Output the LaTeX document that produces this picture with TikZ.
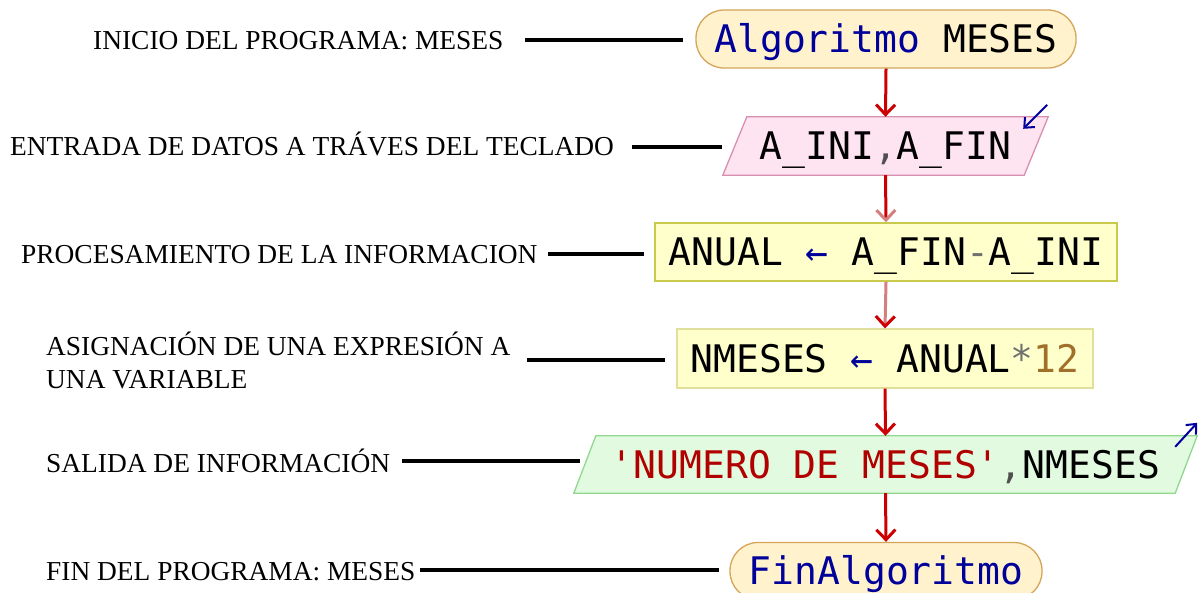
\documentclass[tikz,border=0pt]{standalone}
\usepackage{fontspec}
\setmainfont{Liberation Serif}
\newfontfamily\mono{DejaVu Sans Mono}
\usetikzlibrary{arrows.meta,calc,backgrounds}
\definecolor{termfill}{HTML}{FFF2CC}
\definecolor{termline}{HTML}{D4A55A}
\definecolor{pinkfill}{HTML}{FDE4F0}
\definecolor{pinkline}{HTML}{D88FB0}
\definecolor{procfill}{HTML}{FFFFCC}
\definecolor{procline}{HTML}{C9C94C}
\definecolor{assignline}{HTML}{E0E09C}
\definecolor{greenfill}{HTML}{E2FAE0}
\definecolor{greenline}{HTML}{90D890}
\definecolor{kw}{HTML}{00009A}
\definecolor{strc}{HTML}{B00000}
\definecolor{numc}{HTML}{A0702A}
\definecolor{opc}{HTML}{707070}
\definecolor{punctc}{HTML}{505050}
\definecolor{flowred}{HTML}{CC0000}
\definecolor{flowpink}{HTML}{D48080}
\definecolor{markblue}{HTML}{0000A0}
\begin{document}
\begin{tikzpicture}[x=1pt,y=-1pt,
  code/.style={font=\mono\fontsize{38}{40}\selectfont, text height=27.7pt, text depth=0pt, inner sep=0pt, align=center},
  termbox/.style={code, draw=termline, fill=termfill, line width=1.3pt, rounded corners=28pt, minimum height=58pt},
  procbox/.style={code, draw=procline, fill=procfill, line width=1.6pt, minimum height=58pt},
  assignbox/.style={code, draw=assignline, fill=procfill, line width=1.3pt, minimum height=59pt},
  iobox/.style={code, minimum height=58pt},
  lbl/.style={font=\fontsize{27.4}{32.7}\selectfont, anchor=base west, inner sep=0pt, align=left},
  flow/.style={draw=flowred, line width=3pt, -{Straight Barb[length=10pt,width=19pt,line width=3pt]}},
  lead/.style={draw=black, line width=3.2pt},
  bluemark/.style={draw=markblue, line width=2pt, -{Straight Barb[length=8pt,width=14pt,line width=2pt]}}
]
\useasboundingbox (0,0) rectangle (1198,592);

% flowchart nodes
\node[termbox, minimum width=380pt] (start) at (886,39) {{\color{kw}Algoritmo} MESES};
\node[iobox, minimum width=301pt] (in) at (885.5,146) {A\_INI{\color{punctc},}A\_FIN};
\node[procbox, minimum width=462pt] (proc) at (886,252) {ANUAL {\color{kw}←} A\_FIN{\color{opc}-}A\_INI};
\node[assignbox, minimum width=416pt] (asg) at (885,358.5) {NMESES {\color{kw}←} ANUAL{\color{opc}*}{\color{numc}12}};
\node[iobox, minimum width=601pt, minimum height=57pt] (out) at (885.5,464.5) {{\color{strc}'NUMERO DE MESES'}{\color{punctc},}NMESES};
\node[termbox, minimum width=312pt, minimum height=57pt] (end) at (886,571) {{\color{kw}FinAlgoritmo}};

% parallelogram outlines
\begin{scope}[on background layer]
  \filldraw[fill=pinkfill, draw=pinkline, line width=1.3pt]
    ($(in.north west)+(12,0)$) -- ($(in.north east)+(12,0)$) -- ($(in.south east)+(-12,0)$) -- ($(in.south west)+(-12,0)$) -- cycle;
  \filldraw[fill=greenfill, draw=greenline, line width=1.3pt]
    ($(out.north west)+(11,0)$) -- ($(out.north east)+(11,0)$) -- ($(out.south east)+(-11,0)$) -- ($(out.south west)+(-11,0)$) -- cycle;
\end{scope}

% blue marks
\draw[bluemark] ($(in.north east)+(11,-12)$) -- ($(in.north east)+(-13,12)$);
\draw[bluemark] ($(out.north east)+(-11,11)$) -- ($(out.north east)+(11,-13)$);

% flow arrows
\draw[flow] (start.south) -- (in.north);
\draw[draw=flowred, line width=3pt, -{Straight Barb[length=10pt,width=19pt,line width=3pt,color=flowpink]}] (in.south) -- (proc.north);
\draw[draw=flowpink, line width=3pt, -{Straight Barb[length=10pt,width=19pt,line width=3pt,color=flowred]}] (proc.south) -- (asg.north);
\draw[flow] (asg.south) -- (out.north);
\draw[flow] (out.south) -- (end.north);

% labels
\node[lbl] (l1) at (93,49) {INICIO DEL PROGRAMA: MESES};
\node[lbl] (l2) at (10,155) {ENTRADA DE DATOS A TRÁVES DEL TECLADO};
\node[lbl] (l3) at (21,263) {PROCESAMIENTO DE LA INFORMACION};
\node[lbl] (l4) at (46,388) {ASIGNACIÓN DE UNA EXPRESIÓN A\\UNA VARIABLE};
\node[lbl] (l5) at (46,472) {SALIDA DE INFORMACIÓN};
\node[lbl] (l6) at (46,580) {FIN DEL PROGRAMA: MESES};

% leader lines
\coordinate (c1) at (525,40);
\coordinate (c2) at (632,147);
\coordinate (c3) at (548,254);
\coordinate (c4) at (527,360);
\coordinate (c5) at (402,461);
\coordinate (c6) at (420,570);
\draw[lead, shorten >=12pt] (c1) -- (c1 -| start.west);
\draw[lead, shorten >=13pt] (c2) -- (c2 -| in.west);
\draw[lead, shorten >=10pt] (c3) -- (c3 -| proc.west);
\draw[lead, shorten >=11pt] (c4) -- (c4 -| asg.west);
\draw[lead, shorten >=5pt] (c5) -- (c5 -| out.west);
\draw[lead, shorten >=10pt] (c6) -- (c6 -| end.west);
\end{tikzpicture}
\end{document}
